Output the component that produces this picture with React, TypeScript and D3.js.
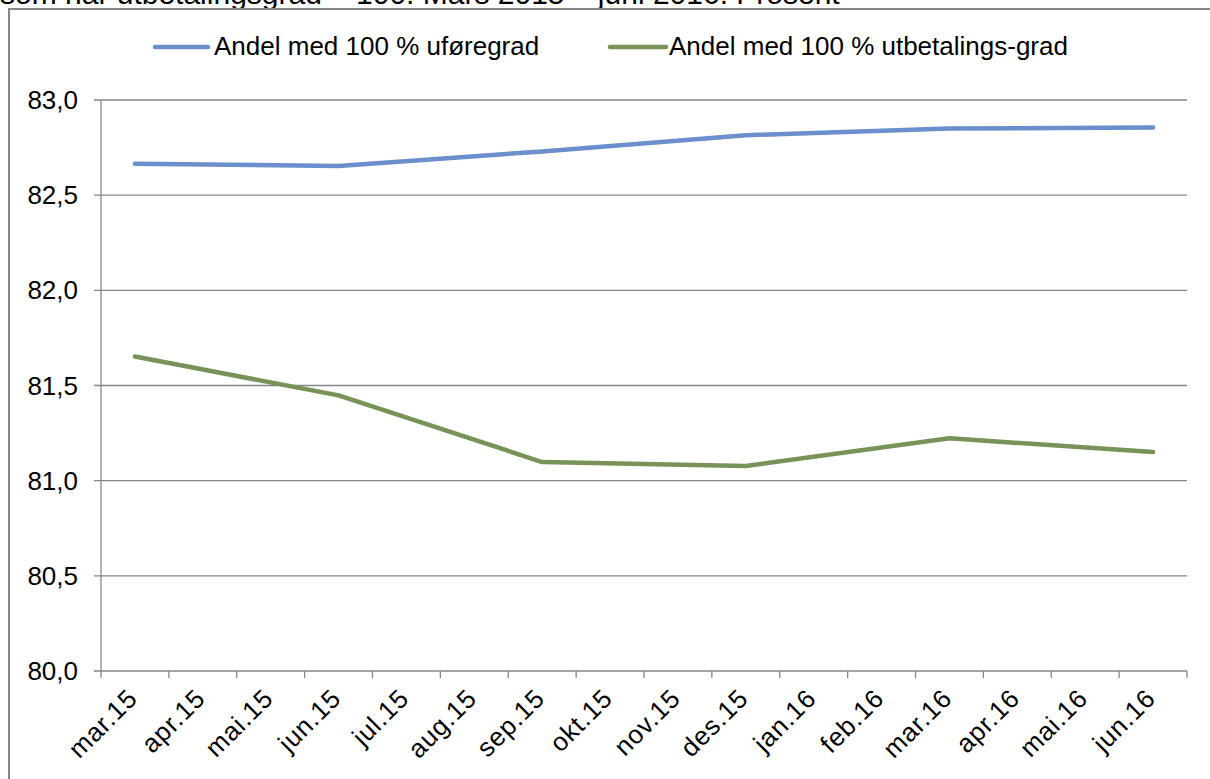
import React from 'react';
import * as d3 from 'd3';

const months = [
  'mar.15', 'apr.15', 'mai.15', 'jun.15', 'jul.15', 'aug.15', 'sep.15', 'okt.15',
  'nov.15', 'des.15', 'jan.16', 'feb.16', 'mar.16', 'apr.16', 'mai.16', 'jun.16',
];
// quarterly observations, null where no data
const uforegrad = [82.665, null, null, 82.653, null, null, 82.73, null, null, 82.815, null, null, 82.85, null, null, 82.856];
const utbetalingsgrad = [81.652, null, null, 81.448, null, null, 81.098, null, null, 81.077, null, null, 81.223, null, null, 81.15];
const yTicks = [80, 80.5, 81, 81.5, 82, 82.5, 83];

const series = [
  { name: 'Andel med 100 % uføregrad', values: uforegrad, color: '#6a8fcc' },
  { name: 'Andel med 100 % utbetalings-grad', values: utbetalingsgrad, color: '#779358' },
];

const width = 1210;
const height = 779;
const font = '"Liberation Sans", Arial, sans-serif';

const App: React.FC = () => {
  const left = 101;
  const right = 1187;
  const top = 100;
  const bottom = 671;

  const x = d3.scaleBand<string>().domain(months).range([left, right]);
  const y = d3.scaleLinear().domain([80, 83]).range([bottom, top]);

  const line = d3.line<{ m: string; v: number }>()
    .x(d => (x(d.m) as number) + x.bandwidth() / 2)
    .y(d => y(d.v));

  return (
    <svg width={width} height={height} style={{ position: 'absolute', left: 0, top: 0, background: '#fff' }}>
      <text x={0} y={4} fontFamily={font} fontSize={30} fill="#000">
        som har utbetalingsgrad = 100. Mars 2015 – juni 2016. Prosent
      </text>
      {/* outer chart border */}
      <path d={`M9,${height + 5}V9H${width + 5}`} fill="none" stroke="#868686" strokeWidth={2} />

      {/* legend */}
      <g fontFamily={font} fontSize={26}>
        <line x1={155} x2={208} y1={47} y2={47} stroke={series[0].color} strokeWidth={4.5} strokeLinecap="round" />
        <text x={214} y={55} fill="#000">{series[0].name}</text>
        <line x1={610} x2={666} y1={47} y2={47} stroke={series[1].color} strokeWidth={4.5} strokeLinecap="round" />
        <text x={669} y={55} fill="#000">{series[1].name}</text>
      </g>

      {/* gridlines and y axis */}
      {yTicks.map(t => (
        <g key={t}>
          <line x1={left - 7} x2={right} y1={y(t)} y2={y(t)} stroke="#868686" strokeWidth={1.3} />
          <text x={78} y={y(t) + 9} textAnchor="end" fontFamily={font} fontSize={26} fill="#000">
            {d3.format('.1f')(t).replace('.', ',')}
          </text>
        </g>
      ))}
      <line x1={left} x2={left} y1={top} y2={bottom} stroke="#868686" strokeWidth={1.3} />

      {/* x axis ticks */}
      {months.concat(['']).map((m, i) => {
        const xp = left + i * x.step();
        return <line key={i} x1={xp} x2={xp} y1={bottom} y2={bottom + 7} stroke="#868686" strokeWidth={1.3} />;
      })}
      {months.map(m => {
        const cx = (x(m) as number) + x.bandwidth() / 2 + 4;
        return (
          <text key={m} transform={`translate(${cx},${bottom + 29}) rotate(-45)`} textAnchor="end"
            fontFamily={font} fontSize={26} letterSpacing={0.8} fill="#000">{m}</text>
        );
      })}

      {/* lines */}
      {series.map(s => {
        const pts = months
          .map((m, i) => ({ m, v: s.values[i] }))
          .filter(d => d.v !== null) as { m: string; v: number }[];
        return (
          <path key={s.name} d={line(pts) || ''} fill="none" stroke={s.color} strokeWidth={4.5}
            strokeLinecap="round" strokeLinejoin="round" />
        );
      })}
    </svg>
  );
};

export default App;
